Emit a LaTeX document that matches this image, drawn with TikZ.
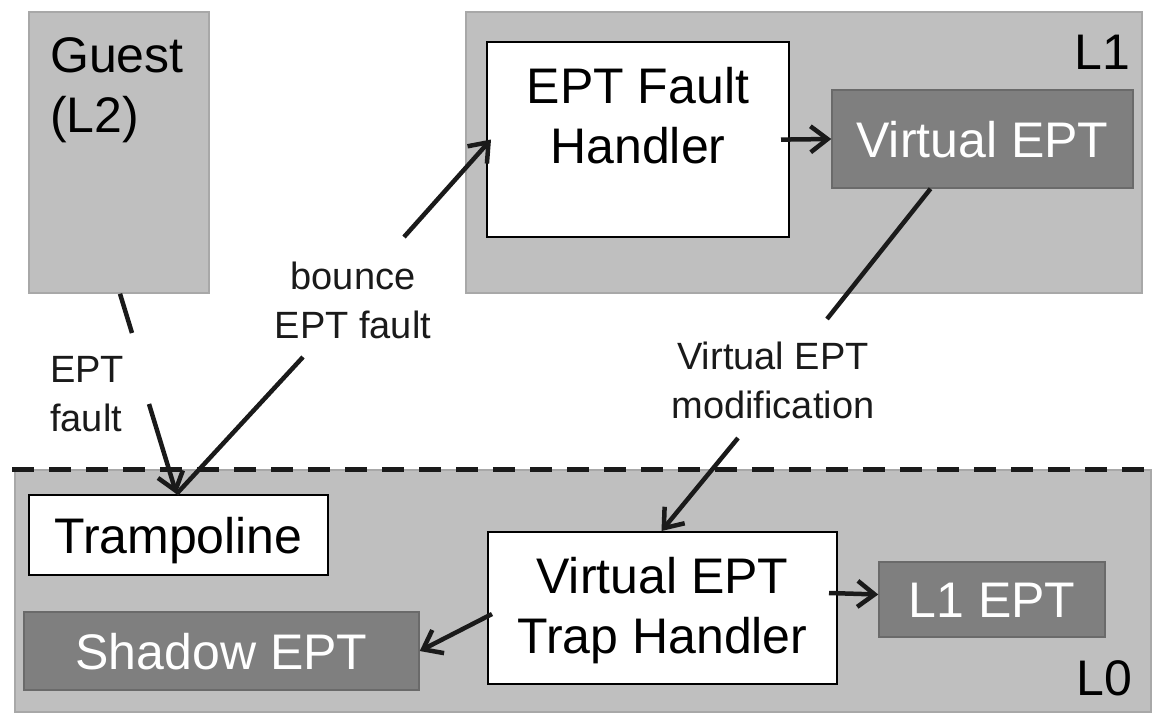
\documentclass[tikz,border=0pt]{standalone}
\usepackage{fontspec}
\setmainfont{Liberation Sans}
\usetikzlibrary{arrows.meta,calc}

\definecolor{panel}{HTML}{BFBFBF}
\definecolor{panelrule}{HTML}{A8A8A8}
\definecolor{tablefill}{HTML}{7F7F7F}
\definecolor{tablerule}{HTML}{6A6A6A}
\definecolor{ink}{HTML}{1A1A1A}

\newcommand\figbigfont{\fontsize{50}{60.5}\selectfont}
\newcommand\figsmallfont{\fontsize{38}{49}\selectfont}

\begin{document}
\begin{tikzpicture}[x=1pt,y=-1pt,
  panelbox/.style={draw=panelrule, fill=panel, line width=1.5pt, inner sep=0pt},
  codebox/.style={draw=black, fill=white, line width=2pt, inner sep=0pt,
    font=\figbigfont, text height=36pt, text depth=0pt},
  tablebox/.style={draw=tablerule, fill=tablefill, line width=1.5pt, inner sep=0pt,
    text=white, font=\figbigfont, text height=36pt, text depth=0pt},
  bigtext/.style={inner sep=0pt, font=\figbigfont, text=black},
  smalltext/.style={inner sep=0pt, font=\figsmallfont, text=ink},
  link/.style={draw=ink, line width=4.5pt},
  conn/.style={link, -{Straight Barb[length=17pt,width=26pt]}},
  ]
\useasboundingbox (0,0) rectangle (1158,715);

% privilege levels
\node[panelbox, minimum width=180pt, minimum height=281pt] (guest) at (119,152.5) {};
\node[panelbox, minimum width=676pt, minimum height=281pt] (l1box) at (804,152.5) {};
\node[panelbox, minimum width=1136pt, minimum height=242pt] (l0box) at (583,591) {};
\draw[ink, line width=5pt, dash pattern=on 22pt off 15pt]
  ([xshift=-2pt]l0box.north west) -- ([xshift=5pt]l0box.north east);

\node[bigtext, align=left, anchor=north west] (guesttext) at (50,37) {Guest\\(L2)};
\node[bigtext, anchor=north east] (l1label) at (1130,35) {L1};
\node[bigtext, anchor=north east] (l0label) at (1132,660) {L0};

% L1 components
\node[codebox, minimum width=302pt, minimum height=195pt] (efh) at (638,139.5) {};
\node[bigtext, align=center, anchor=north] (efhtext) at (638,67) {EPT Fault\\Handler};
\node[tablebox, minimum width=301pt, minimum height=98pt] (vept) at (982.5,139) {Virtual EPT};

% L0 components
\node[codebox, minimum width=299pt, minimum height=80pt] (tramp) at (178.5,535) {Trampoline};
\node[tablebox, minimum width=395pt, minimum height=78pt] (shadow) at (221.5,651) {Shadow EPT};
\node[codebox, minimum width=349pt, minimum height=152pt] (th) at (662.5,608) {};
\node[bigtext, align=center, anchor=north] (thtext) at (662.5,557) {Virtual EPT\\Trap Handler};
\node[tablebox, minimum width=226pt, minimum height=75pt] (l1ept) at (992,599.5) {L1 EPT};

% connector labels
\node[smalltext, align=left, anchor=north west] (faultlabel) at (50,356) {EPT\\fault};
\node[smalltext, align=center, anchor=north] (bouncelabel) at (353,262) {bounce\\EPT fault};
\node[smalltext, align=center, anchor=north] (modlabel) at (773,342) {Virtual EPT\\modification};

% break points of the labelled connectors
\coordinate (gbreakA) at (132,333);
\coordinate (gbreakB) at (149,404);
\coordinate (bbreakA) at (303,357);
\coordinate (bbreakB) at (404,237);
\coordinate (mbreakA) at (827,319);
\coordinate (mbreakB) at (738,438);

% connectors
\draw[link] ([xshift=1pt]guest.south) -- (gbreakA);
\draw[conn] (gbreakB) -- ([xshift=-2pt]tramp.north);
\draw[link] ([xshift=-2pt]tramp.north) -- (bbreakA);
\draw[conn] (bbreakB) -- ([xshift=5pt]efh.west);
\draw[conn, shorten <=-9pt] (efh.east) -- (vept.west);
\draw[link] ([xshift=-52pt]vept.south) -- (mbreakA);
\draw[conn] (mbreakB) -- ([xshift=-1pt]th.north);
\draw[conn] ([shift={(-9,-15)}]th.east) -- ([shift={(0,-5)}]l1ept.west);
\draw[conn] ([shift={(5,6)}]th.west) -- (shadow.east);
\end{tikzpicture}
\end{document}
